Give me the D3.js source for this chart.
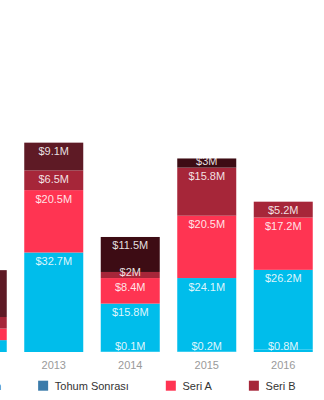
<!DOCTYPE html>
<html>
<head>
<meta charset="utf-8">
<script src="https://cdn.jsdelivr.net/npm/d3@7"></script>
<style>
  html, body { margin: 0; padding: 0; background: #fff; }
  svg { display: block; }
  text { font-family: "Liberation Sans", Arial, Helvetica, sans-serif; }
</style>
</head>
<body>
<svg id="chart" width="324" height="400"></svg>
<script>
// ---- data ----
const years = ["2012", "2013", "2014", "2015", "2016"];
const seriesKeys = ["Tohum", "Tohum Sonrası", "Seri A", "Seri B", "Seri C", "Seri D"];
const tohum        = [0,    0,    0.1,  0.2,  0.8];
const tohumSonrasi = [3.9,  32.7, 15.8, 24.1, 26.2];
const seriA        = [3.8,  20.5, 8.4,  20.5, 17.2];
const seriB        = [3.8,  6.5,  2,    15.8, 5.2];
const seriC        = [15.4, 9.1,  0,    0,    0];
const seriD        = [0,    0,    11.5, 3,    0];
const yMax = 70;

// ---- styles ----
const barColors = {
  "Tohum": "#00bdeb",
  "Tohum Sonrası": "#00bdeb",
  "Seri A": "#ff3452",
  "Seri B": "#a62639",
  "Seri C": "#5e1a25",
  "Seri D": "#3d0c14"
};
const legendColors = {
  "Tohum": "#00bdeb",
  "Tohum Sonrası": "#3b7baa",
  "Seri A": "#ff3452",
  "Seri B": "#a62639",
  "Seri C": "#5e1a25",
  "Seri D": "#3d0c14"
};

const cols = [tohum, tohumSonrasi, seriA, seriB, seriC, seriD];
const table = years.map((y, i) => {
  const row = { year: y };
  seriesKeys.forEach((k, j) => row[k] = cols[j][i]);
  return row;
});

const svg = d3.select("#chart");

const x = d3.scaleBand()
  .domain(years)
  .range([-61, 321.5])
  .paddingInner(0.2288)
  .paddingOuter(0.1144);

const y = d3.scaleLinear().domain([0, yMax]).range([352, 139]);

const stacked = d3.stack().keys(seriesKeys)(table);

const g = svg.append("g");

stacked.forEach(layer => {
  const key = layer.key;
  const lg = g.append("g");
  lg.selectAll("rect")
    .data(layer.filter(d => d[1] - d[0] > 0))
    .join("rect")
    .attr("x", d => x(d.data.year))
    .attr("width", x.bandwidth())
    .attr("y", d => y(d[1]))
    .attr("height", d => y(d[0]) - y(d[1]))
    .attr("fill", barColors[key]);
});

// labels (only for bars lying inside the visible window)
const visible = d => x(d.data.year) >= 0;
stacked.forEach(layer => {
  g.append("g").selectAll("text")
    .data(layer.filter(d => d[1] - d[0] > 0 && visible(d)))
    .join("text")
    .attr("x", d => x(d.data.year) + x.bandwidth() / 2)
    .attr("y", d => Math.min(y(d[1]) + 12.5, y(d[0]) - 2.5))
    .attr("text-anchor", "middle")
    .attr("font-size", 11)
    .attr("fill", "#ffffff")
    .attr("fill-opacity", 0.88)
    .text(d => "$" + (d[1] - d[0]).toFixed(1).replace(/\.0$/, "") + "M");
});

// x axis labels
const xAxis = d3.axisBottom(x).tickSize(0).tickPadding(0)
  .tickValues(years.filter(yr => x(yr) >= 0));
const ax = svg.append("g").attr("transform", "translate(0,359)").call(xAxis);
ax.select(".domain").remove();
ax.selectAll("text")
  .attr("font-size", 11)
  .attr("fill", "#9a9a9a")
  .attr("dy", "0.95em")
  .style("font-family", "'Liberation Sans', Arial, sans-serif");

// legend
const legend = svg.append("g");
let lx = -48.6;
seriesKeys.forEach(k => {
  const item = legend.append("g");
  item.append("rect")
    .attr("x", lx).attr("y", 380.7)
    .attr("width", 10).attr("height", 10)
    .attr("fill", legendColors[k]);
  const t = item.append("text")
    .attr("x", lx + 16.7).attr("y", 390)
    .attr("font-size", 11)
    .attr("fill", "#333")
    .text(k);
  lx = lx + 16.7 + t.node().getComputedTextLength() + 37;
});
</script>
</body>
</html>
